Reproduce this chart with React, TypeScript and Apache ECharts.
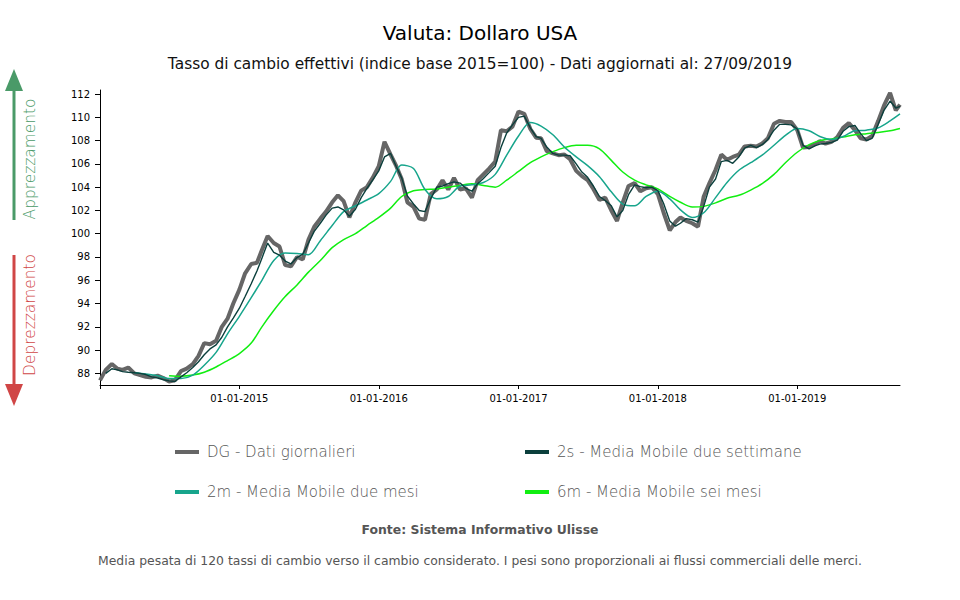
import React, { useEffect, useRef } from "react";
import * as echarts from "echarts";

const TITLE = "Valuta: Dollaro USA";
const SUBTITLE =
  "Tasso di cambio effettivi (indice base 2015=100) - Dati aggiornati al: 27/09/2019";
const SOURCE = "Fonte: Sistema Informativo Ulisse";
const NOTE =
  "Media pesata di 120 tassi di cambio verso il cambio considerato. I pesi sono proporzionali ai flussi commerciali delle merci.";
const UP_LABEL = "Apprezzamento";
const DOWN_LABEL = "Deprezzamento";

const NAME_DG = "DG - Dati giornalieri";
const NAME_2S = "2s - Media Mobile due settimane";
const NAME_2M = "2m - Media Mobile due mesi";
const NAME_6M = "6m - Media Mobile sei mesi";

const FIRST_DATE = "2014-01-01";
const LAST_DATE = "2019-09-27";
const yTicks = [88, 90, 92, 94, 96, 98, 100, 102, 104, 106, 108, 110, 112];
const xTickYears = [2015, 2016, 2017, 2018, 2019];

// semi-monthly readings (1st and 16th) from 2014-01-01, last = LAST_DATE
const dgValues = [
  87.4, 88.3, 88.8, 88.4, 88.3, 88.5, 88.0, 87.85, 87.7, 87.65, 87.8, 87.6, 87.3, 87.4, 88.2, 88.4, 88.8, 89.5, 90.6, 90.5, 90.8, 92.0, 92.7, 94.0,
  95.2, 96.6, 97.4, 97.5, 98.6, 99.8, 99.2, 98.9, 97.3, 97.2, 98.0, 97.8, 99.5, 100.6, 101.3, 101.9, 102.7, 103.3, 102.8, 101.4, 102.7, 103.7, 104.0, 104.8,
  105.8, 107.9, 106.8, 105.8, 104.7, 102.7, 102.3, 101.3, 101.2, 103.4, 103.8, 104.6, 103.8, 104.8, 103.8, 103.9, 103.1, 104.6, 105.1, 105.6, 106.2, 108.9, 108.8, 109.2,
  110.5, 110.3, 109.0, 108.25, 108.2, 107.1, 106.9, 106.75, 106.8, 106.4, 105.4, 104.95, 104.6, 103.85, 102.9, 103.1, 102.0, 101.1, 102.7, 104.1, 104.35, 103.65, 103.9, 104.0,
  103.4, 101.8, 100.3, 101.0, 101.4, 101.1, 100.9, 100.6, 103.2, 104.35, 105.5, 106.8, 106.35, 106.6, 106.8, 107.5, 107.55, 107.5, 107.75, 108.2, 109.45, 109.7, 109.6, 109.6,
  108.9, 107.4, 107.45, 107.7, 107.95, 107.75, 107.9, 108.3, 109.1, 109.5, 108.9, 108.2, 108.1, 108.4, 109.7, 111.0, 112.1, 110.6,
  111.1,
];

// semi-monthly from 2014-01-16, last = LAST_DATE
const ma2sValues = [
  88.0, 88.4, 88.3, 88.15, 88.1, 88.05, 88.0, 87.9, 87.7, 87.6, 87.45, 87.35, 87.3, 87.7, 88.05, 88.5, 89.0, 89.6, 90.1, 90.45, 91.1, 92.0, 92.75,
  93.6, 94.6, 95.7, 96.8, 97.9, 99.2, 98.4, 98.15, 97.65, 97.4, 97.95, 98.25, 99.2, 100.2, 100.9, 101.6, 102.2, 102.3, 102.05, 101.5, 102.1, 103.1, 103.9, 104.6,
  105.4, 106.6, 106.9, 105.75, 104.8, 103.25, 102.55, 102.0, 101.9, 103.0, 104.0, 104.1, 104.3, 104.45, 104.35, 103.9, 103.65, 104.3, 104.75, 105.25, 105.8, 107.4, 108.65, 109.35,
  110.0, 110.1, 109.1, 108.35, 108.2, 107.45, 106.9, 106.75, 106.75, 106.7, 106.0, 105.3, 104.85, 104.1, 103.2, 102.85, 102.4, 101.45, 102.0, 103.35, 104.2, 104.05, 103.95, 104.0,
  103.7, 102.6, 101.1, 100.65, 100.9, 101.3, 101.2, 101.0, 102.35, 104.0, 104.7, 106.2, 106.3, 106.05, 106.6, 107.35, 107.6, 107.4, 107.65, 108.1, 108.9, 109.4, 109.4, 109.35,
  109.0, 107.6, 107.3, 107.55, 107.7, 107.75, 107.85, 108.05, 108.8, 109.2, 109.3, 108.6, 108.0, 108.2, 109.4, 110.6, 111.4, 110.8,
  110.95,
];

// monthly (1st) from 2014-04-01, last = LAST_DATE
const ma2mValues = [
  88.05, 87.95, 87.8, 87.55, 87.55, 87.85, 88.7, 89.8, 91.4,
  92.9, 94.5, 96.0, 97.7, 98.35, 98.3, 98.2, 99.4, 100.7, 101.9, 102.4, 102.9,
  103.45, 104.5, 105.9, 105.6, 103.8, 103.0, 103.2, 104.1, 104.2, 104.4, 105.1, 106.75,
  108.4, 109.55, 109.25, 108.5, 107.45, 106.6, 105.85, 104.9, 103.6, 102.55, 102.4, 103.2,
  103.65, 103.0, 102.05, 101.4, 101.8, 103.1, 104.4, 105.45, 106.1, 106.75, 107.6, 108.45,
  109.05, 108.85, 108.35, 108.1, 108.35, 108.85, 108.9, 109.1, 109.7,
  110.3,
];

// monthly (1st) from 2014-07-01, last = LAST_DATE
const ma6mValues = [
  87.8, 87.75, 87.85, 88.1, 88.55, 89.1,
  89.7, 90.6, 92.0, 93.4, 94.6, 95.6, 96.7, 97.7, 98.8, 99.5, 100.0, 100.7,
  101.4, 102.2, 103.2, 103.7, 103.8, 103.85, 104.0, 104.15, 104.3, 104.15, 104.0, 104.6,
  105.35, 106.1, 106.6, 107.05, 107.4, 107.6, 107.6, 107.3, 106.3, 105.3, 104.6, 104.2,
  103.85, 103.2, 102.7, 102.3, 102.35, 102.65, 103.05, 103.3, 103.75, 104.3, 105.1, 106.1,
  107.0, 107.65, 108.0, 108.15, 108.3, 108.5, 108.6, 108.7, 108.85,
  109.05,
];

const pad = (n: number) => (n < 10 ? "0" + n : "" + n);

function ts(s: string): number {
  const [y, m, d] = s.split("-").map(Number);
  return Date.UTC(y, m - 1, d);
}
function semiMonthlyDate(k: number): string {
  const y = 2014 + Math.floor(k / 24);
  const m = Math.floor((k % 24) / 2) + 1;
  const d = k % 2 === 1 ? 16 : 1;
  return `${y}-${pad(m)}-${pad(d)}`;
}
function monthlyDate(m: number): string {
  const y = 2014 + Math.floor(m / 12);
  return `${y}-${pad((m % 12) + 1)}-01`;
}
function buildSemi(values: number[], k0: number) {
  return values.map((v, i) => [
    ts(i === values.length - 1 ? LAST_DATE : semiMonthlyDate(k0 + i)),
    v,
  ]);
}
function buildMonthly(values: number[], m0: number) {
  return values.map((v, i) => [
    ts(i === values.length - 1 ? LAST_DATE : monthlyDate(m0 + i)),
    v,
  ]);
}

const COLOR_DG = "#666666";
const COLOR_2S = "#0b3f3c";
const COLOR_2M = "#17a58c";
const COLOR_6M = "#11ee11";
const GREEN = "#4a9a68";
const RED = "#d04646";
const FONT = "DejaVu Sans";

export default function App() {
  const ref = useRef<HTMLDivElement>(null);
  useEffect(() => {
    document.body.style.margin = "0";
    if (!ref.current) return;
    const chart = echarts.init(ref.current, undefined, { renderer: "svg" });
    const yearTicks = xTickYears.map((y) => Date.UTC(y, 0, 1));
    const legendCommon = {
      orient: "vertical" as const,
      top: 444,
      padding: 0,
      itemGap: 24,
      itemWidth: 24,
      itemHeight: 4,
      icon: "rect",
      textStyle: {
        fontFamily: FONT,
        fontSize: 15,
        fontWeight: 200 as any,
        color: "#555",
        lineHeight: 16,
        padding: [0, 0, 0, 3],
      },
    };
    const option: any = {
      animation: false,
      textStyle: { fontFamily: FONT },
      grid: { left: 100, right: 60, top: 90, bottom: 215, containLabel: false },
      legend: [
        { ...legendCommon, left: 175, data: [NAME_DG, NAME_2M] },
        { ...legendCommon, left: 525, data: [NAME_2S, NAME_6M] },
      ],
      xAxis: {
        type: "value",
        min: ts(FIRST_DATE),
        max: ts(LAST_DATE),
        axisLine: { show: true, onZero: false, lineStyle: { color: "#000", width: 1 } },
        axisTick: {
          show: true,
          length: 4,
          lineStyle: { color: "#000" },
          customValues: [ts(FIRST_DATE), ...yearTicks],
        },
        axisLabel: {
          customValues: yearTicks,
          fontSize: 10,
          color: "#000",
          margin: 8,
          formatter: (val: number) => {
            const d = new Date(val);
            return `${pad(d.getUTCDate())}-${pad(d.getUTCMonth() + 1)}-${d.getUTCFullYear()}`;
          },
        },
        splitLine: { show: false },
      },
      yAxis: {
        type: "value",
        min: 87,
        max: 112.35,
        axisLine: { show: true, onZero: false, lineStyle: { color: "#000", width: 1 } },
        axisTick: {
          show: true,
          length: 5,
          lineStyle: { color: "#000" },
          customValues: yTicks,
        },
        axisLabel: {
          customValues: yTicks,
          fontSize: 10,
          color: "#000",
          margin: 10,
        },
        splitLine: { show: false },
      },
      series: [
        {
          name: NAME_DG,
          type: "line",
          data: buildSemi(dgValues, 0),
          showSymbol: false,
          color: COLOR_DG,
          lineStyle: { width: 4, color: COLOR_DG },
          z: 2,
        },
        {
          name: NAME_2S,
          type: "line",
          data: buildSemi(ma2sValues, 1),
          showSymbol: false,
          color: COLOR_2S,
          lineStyle: { width: 1.4, color: COLOR_2S },
          z: 5,
        },
        {
          name: NAME_2M,
          type: "line",
          data: buildMonthly(ma2mValues, 3),
          showSymbol: false,
          smooth: 0.3,
          color: COLOR_2M,
          lineStyle: { width: 1.5, color: COLOR_2M },
          z: 4,
        },
        {
          name: NAME_6M,
          type: "line",
          data: buildMonthly(ma6mValues, 6),
          showSymbol: false,
          smooth: 0.3,
          color: COLOR_6M,
          lineStyle: { width: 1.5, color: COLOR_6M },
          z: 3,
        },
      ],
      graphic: [
        {
          type: "text",
          x: 480,
          y: 33,
          style: {
            text: TITLE,
            fontFamily: FONT,
            fontSize: 20,
            fill: "#000",
            align: "center",
            verticalAlign: "middle",
          },
        },
        {
          type: "text",
          x: 480,
          y: 64,
          style: {
            text: SUBTITLE,
            fontFamily: FONT,
            fontSize: 15.4,
            fill: "#111",
            align: "center",
            verticalAlign: "middle",
          },
        },
        {
          type: "line",
          shape: { x1: 14, y1: 88, x2: 14, y2: 220 },
          style: { stroke: GREEN, lineWidth: 3 },
        },
        {
          type: "polygon",
          shape: { points: [[5, 91], [23, 91], [14, 69]] },
          style: { fill: GREEN },
        },
        {
          type: "text",
          x: 30,
          y: 159,
          rotation: Math.PI / 2,
          style: {
            text: UP_LABEL,
            fontFamily: FONT,
            fontSize: 15.4,
            fontWeight: 200,
            fill: GREEN,
            align: "center",
            verticalAlign: "middle",
          },
        },
        {
          type: "line",
          shape: { x1: 14, y1: 255, x2: 14, y2: 387 },
          style: { stroke: RED, lineWidth: 3 },
        },
        {
          type: "polygon",
          shape: { points: [[5, 384], [23, 384], [14, 406]] },
          style: { fill: RED },
        },
        {
          type: "text",
          x: 30,
          y: 315,
          rotation: Math.PI / 2,
          style: {
            text: DOWN_LABEL,
            fontFamily: FONT,
            fontSize: 15.4,
            fontWeight: 200,
            fill: RED,
            align: "center",
            verticalAlign: "middle",
          },
        },
        {
          type: "text",
          x: 480,
          y: 529,
          style: {
            text: SOURCE,
            fontFamily: FONT,
            fontSize: 12.4,
            fontWeight: "bold",
            fill: "#555",
            align: "center",
            verticalAlign: "middle",
          },
        },
        {
          type: "text",
          x: 480,
          y: 560,
          style: {
            text: NOTE,
            fontFamily: FONT,
            fontSize: 12.4,
            fill: "#555",
            align: "center",
            verticalAlign: "middle",
          },
        },
      ],
    };
    chart.setOption(option);
    return () => chart.dispose();
  }, []);
  return <div ref={ref} style={{ width: 960, height: 600 }} />;
}
